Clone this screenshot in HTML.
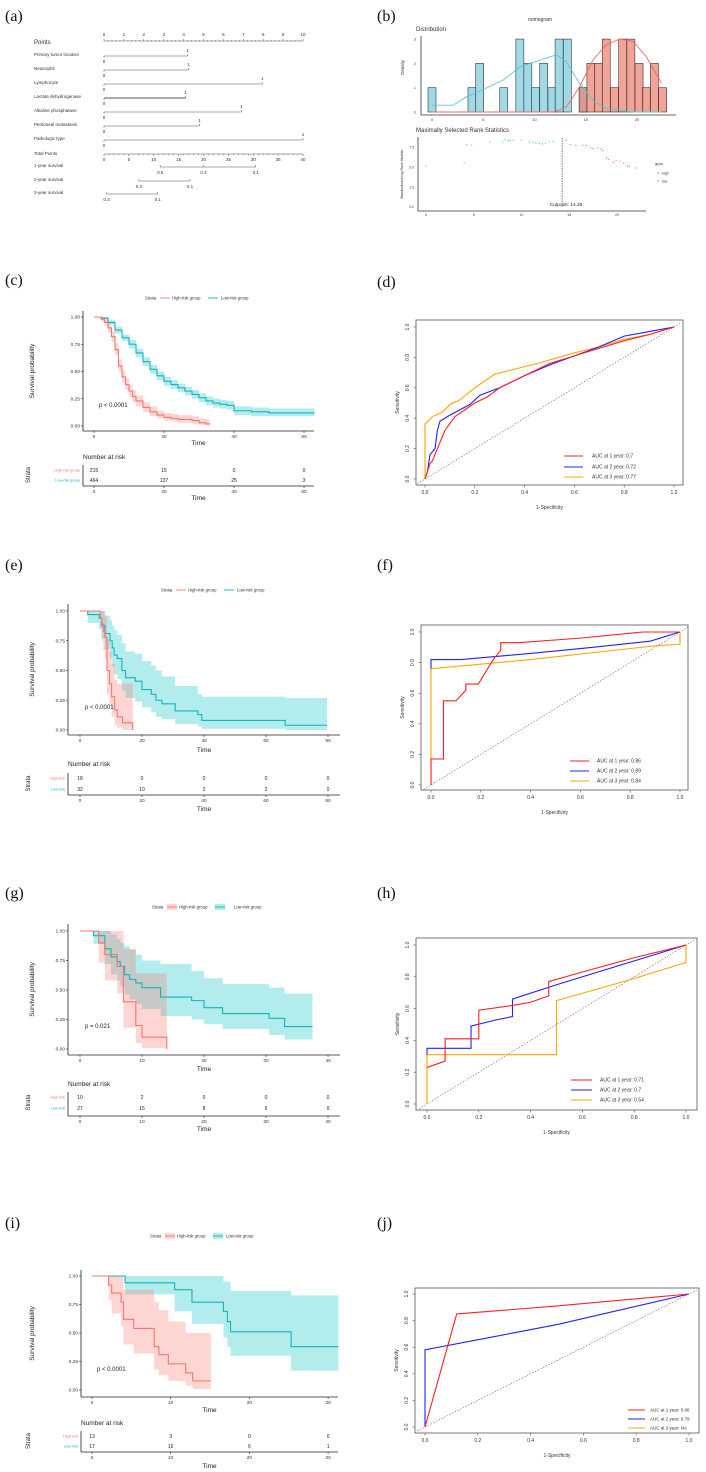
<!DOCTYPE html>
<html><head><meta charset="utf-8">
<style>
html,body{margin:0;padding:0;background:#fff;}
svg{display:block;font-family:"Liberation Sans",sans-serif;}
.pl{font-family:"Liberation Serif",serif;font-size:16px;fill:#111;}
</style></head>
<body>
<svg id="fig" width="706" height="1472" viewBox="0 0 706 1472" xmlns="http://www.w3.org/2000/svg">
<text class="pl" x="5" y="21">(a)</text>
<text class="pl" x="377" y="21">(b)</text>
<text class="pl" x="5" y="285">(c)</text>
<text class="pl" x="377" y="287">(d)</text>
<text class="pl" x="5" y="570">(e)</text>
<text class="pl" x="377" y="570">(f)</text>
<text class="pl" x="5" y="898">(g)</text>
<text class="pl" x="377" y="898">(h)</text>
<text class="pl" x="5" y="1228">(i)</text>
<text class="pl" x="377" y="1228">(j)</text>
</svg>
<script>
// ---------- Nomogram (a) ----------
const nomoVars = ['Primary tumor location','Neutrophil','Lymphocyte','Lactate dehydrogenase','Alkaline phosphatase','Peritoneal metastasis','Pathologic type'];
const nomoMaxPts = [4.2, 4.25, 7.95, 4.1, 6.9, 4.8, 10];
const pointsTicks = [0,1,2,3,4,5,6,7,8,9,10];
const totalTicks = [0,5,10,15,20,25,30,35,40];
const surv1Pos = [11.3, 20, 30.5]; const surv1Lab = ['0.5','0.3','0.1'];
const surv2Pos = [7, 17.3]; const surv2Lab = ['0.3','0.1'];
const surv3Pos = [0.5, 10.8]; const surv3Lab = ['0.3','0.1'];

// ---------- Histogram / rank stats (b) ----------
const histLowX = [0.0,3.9,4.65,7.0,8.57,9.35,10.1,10.9,11.7,12.4,13.2,14.75];
const histLowH = [1,1,2,1,3,2,1,2,1,3,3,1];
const histHighX = [14.75,15.5,16.25,17.0,17.8,18.6,19.4,20.2,20.9,21.7,22.5];
const histHighH = [1,2,2,3,1,3,3,2,1,2,1];
const densLowX = [0,2.05,3.35,5.0,6.9,8.6,10.5,12.1,13.1,14.4,15.7,17,19.6,22.4];
const densLowY = [0.28,0.28,0.62,0.93,1.3,1.86,2.13,2.35,2.07,1.18,0.48,0.14,0.0,0.0];
const densHighX = [0,11.8,13.1,14.4,15.7,17,18.3,19.6,20.9,22.4];
const densHighY = [0,0,0.2,1.04,2.14,2.77,3.0,2.91,2.28,1.18];
const rankLowX = [0,4.0,4.27,4.79,6.71,8.04,8.32,8.6,8.8,9.1,9.96,10.8,11.2,11.5,11.9,12.2,12.5,12.9,13.3];
const rankLowY = [5.19,5.53,7.83,7.75,8.17,8.17,8.46,8.34,8.38,8.38,8.38,8.13,8.13,8.04,7.96,7.92,8.04,8.17,8.25];
const rankHighX = [14.7,15.1,15.7,16.4,16.8,17.2,17.5,18.0,18.3,18.5,18.9,19.1,19.6,19.9,20.3,20.7,21.1,21.3,22.0];
const rankHighY = [8.38,7.83,7.75,7.75,7.71,7.42,7.33,7.42,7.29,7.08,6.16,5.95,5.61,5.82,5.74,5.53,5.19,5.11,4.9];
const cutpoint = 14.25;

// ---------- KM data ----------
const cHighT = [0,2,3,4,5,6,7,8,9,10,11,12,14,16,18,20,22,24,26,28,30,32,33];
const cHighS = [1,0.98,0.95,0.9,0.82,0.7,0.55,0.45,0.38,0.32,0.27,0.23,0.17,0.13,0.1,0.08,0.07,0.06,0.06,0.05,0.03,0.02,0.015];
const cHighLo = [1,0.96,0.92,0.86,0.77,0.65,0.5,0.4,0.33,0.27,0.22,0.18,0.13,0.09,0.07,0.05,0.04,0.03,0.03,0.02,0.01,0.0,0.0];
const cHighHi = [1,1,0.98,0.94,0.87,0.76,0.61,0.51,0.44,0.38,0.33,0.28,0.22,0.18,0.14,0.12,0.11,0.1,0.1,0.09,0.07,0.06,0.05];
const cLowT = [0,2,4,6,8,10,12,14,16,18,20,22,24,26,28,30,32,34,36,38,40,45,50,55,60,63];
const cLowS = [1,0.99,0.95,0.88,0.81,0.75,0.67,0.59,0.52,0.46,0.41,0.38,0.35,0.32,0.29,0.26,0.23,0.21,0.2,0.19,0.14,0.13,0.12,0.12,0.12,0.12];
const cLowLo = [1,0.98,0.93,0.85,0.78,0.71,0.63,0.55,0.48,0.42,0.37,0.34,0.31,0.28,0.25,0.22,0.19,0.17,0.16,0.15,0.1,0.09,0.09,0.09,0.09,0.09];
const cLowHi = [1,1,0.97,0.91,0.84,0.79,0.71,0.63,0.56,0.5,0.45,0.42,0.39,0.36,0.33,0.3,0.27,0.25,0.24,0.23,0.18,0.17,0.16,0.16,0.16,0.16];
const cRiskHigh = [215,15,0,0]; const cRiskLow = [464,137,25,3]; const cTicks = [0,20,40,60];

const eHighT = [0,6,6.5,7,7.5,8,8.7,9.5,10.2,11.2,12,13.7,17];
const eHighS = [1,1,0.94,0.89,0.83,0.78,0.5,0.39,0.28,0.17,0.11,0.06,0];
const eHighLo = [1,1,0.85,0.75,0.67,0.6,0.3,0.2,0.11,0.04,0.02,0.0,0];
const eHighHi = [1,1,1,1,1,0.97,0.76,0.66,0.56,0.42,0.39,0.39,0.39];
const eLowT = [0,2.5,6.2,7,8,9.7,10.4,11,12,13.5,14.7,17.8,20,23,24.5,26.4,30.7,38,39.3,66.2,79.7];
const eLowS = [1,0.97,0.94,0.88,0.81,0.75,0.69,0.63,0.6,0.5,0.44,0.41,0.34,0.3,0.25,0.22,0.16,0.13,0.08,0.04,0.04];
const eLowLo = [1,0.9,0.85,0.77,0.68,0.6,0.53,0.47,0.43,0.33,0.27,0.24,0.19,0.15,0.11,0.09,0.05,0.03,0.01,0,0];
const eLowHi = [1,1,1,1,0.96,0.92,0.88,0.84,0.8,0.73,0.66,0.64,0.58,0.54,0.5,0.45,0.37,0.3,0.28,0.27,0.27];
const eRiskHigh = [18,0,0,0,0]; const eRiskLow = [32,10,2,2,0]; const eTicks = [0,20,40,60,80];

const gHighT = [0,3,4,6,7,9,10,14];
const gHighS = [1,0.9,0.8,0.7,0.4,0.2,0.1,0];
const gHighLo = [1,0.73,0.58,0.47,0.18,0.05,0.01,0];
const gHighHi = [1,1,1,1,0.85,0.64,0.64,0.64];
const gLowT = [0,2.2,4,5,6,6.5,7.2,8,9,10,13,18,20,23,30.5,33,37.5];
const gLowS = [1,0.96,0.85,0.78,0.74,0.7,0.63,0.59,0.56,0.52,0.44,0.41,0.35,0.3,0.26,0.19,0.19];
const gLowLo = [1,0.89,0.72,0.63,0.58,0.53,0.46,0.42,0.38,0.34,0.28,0.25,0.21,0.17,0.12,0.08,0.08];
const gLowHi = [1,1,1,0.97,0.93,0.9,0.87,0.84,0.8,0.75,0.72,0.66,0.6,0.55,0.52,0.47,0.47];
const gRiskHigh = [10,2,0,0,0]; const gRiskLow = [27,15,8,6,0]; const gTicks = [0,10,20,30,40];

const iHighT = [0,2.1,2.5,3.7,4,5.3,7.9,8.5,9.7,11.9,12.8,15.1];
const iHighS = [1,0.92,0.85,0.77,0.62,0.54,0.38,0.31,0.23,0.15,0.08,0.08];
const iHighLo = [1,0.79,0.67,0.56,0.4,0.32,0.18,0.13,0.08,0.04,0.01,0.01];
const iHighHi = [1,1,1,1,0.88,0.88,0.77,0.7,0.6,0.5,0.5,0.5];
const iLowT = [0,4.2,10.5,12.7,16.7,17.2,17.6,25.3,31.3];
const iLowS = [1,0.94,0.88,0.77,0.69,0.6,0.51,0.38,0.38];
const iLowLo = [1,0.84,0.69,0.58,0.46,0.38,0.3,0.17,0.17];
const iLowHi = [1,1,1,1,0.95,0.95,0.87,0.83,0.83];
const iRiskHigh = [13,3,0,0]; const iRiskLow = [17,16,6,1]; const iTicks = [0,10,20,30];

// ---------- ROC data ----------
const dRedX = [0,0.01,0.02,0.03,0.05,0.08,0.12,0.2,0.25,0.3,0.4,0.5,0.6,0.7,0.8,0.9,1];
const dRedY = [0,0.05,0.1,0.12,0.2,0.32,0.41,0.5,0.54,0.6,0.68,0.76,0.81,0.86,0.91,0.95,1];
const dBlueX = [0,0.01,0.02,0.04,0.05,0.06,0.1,0.18,0.22,0.3,0.4,0.5,0.6,0.7,0.8,0.9,1];
const dBlueY = [0,0.05,0.16,0.2,0.32,0.38,0.42,0.49,0.55,0.6,0.68,0.75,0.81,0.87,0.94,0.97,1];
const dOrX = [0,0,0.03,0.07,0.1,0.14,0.2,0.28,0.33,0.45,0.6,0.7,0.8,0.9,1];
const dOrY = [0,0.36,0.41,0.44,0.49,0.52,0.6,0.69,0.71,0.76,0.83,0.87,0.92,0.95,1];
const dAuc = ['AUC at 1 year: 0.7','AUC at 2 year: 0.72','AUC at 3 year: 0.77'];

const fRedX = [0,0,0.05,0.05,0.1,0.14,0.14,0.19,0.25,0.28,0.28,0.35,0.6,0.85,1];
const fRedY = [0,0.17,0.17,0.55,0.55,0.62,0.66,0.66,0.82,0.88,0.93,0.93,0.96,1,1];
const fBlueX = [0,0,0.12,0.4,0.65,0.88,1];
const fBlueY = [0.76,0.82,0.82,0.86,0.9,0.94,1];
const fOrX = [0,0,0.4,0.9,1,1];
const fOrY = [0,0.76,0.82,0.91,0.92,1];
const fAuc = ['AUC at 1 year: 0.86','AUC at 2 year: 0.89','AUC at 3 year: 0.84'];

const hRedX = [0,0.07,0.07,0.2,0.2,0.33,0.4,0.47,0.47,0.6,0.8,1];
const hRedY = [0.23,0.27,0.41,0.41,0.59,0.62,0.64,0.68,0.77,0.83,0.92,1];
const hBlueX = [0,0,0.17,0.17,0.27,0.33,0.33,0.5,0.8,1];
const hBlueY = [0.31,0.35,0.35,0.49,0.53,0.55,0.66,0.75,0.9,1];
const hOrX = [0,0,0.5,0.5,0.78,1,1];
const hOrY = [0,0.31,0.31,0.65,0.78,0.89,1];
const hAuc = ['AUC at 1 year: 0.71','AUC at 2 year: 0.7','AUC at 3 year: 0.54'];

const jRedX = [0,0.12,0.5,1];
const jRedY = [0,0.85,0.91,1];
const jBlueX = [0,0,0.5,1];
const jBlueY = [0,0.58,0.77,1];
const jOrX = [];
const jOrY = [];
const jAuc = ['AUC at 1 year: 0.86','AUC at 2 year: 0.79','AUC at 3 year: NA'];

const rocTicks = [0,0.2,0.4,0.6,0.8,1.0];
const kmYTicks = [0,0.25,0.5,0.75,1];

const NS = 'http://www.w3.org/2000/svg';
const svg = document.getElementById('fig');
function mk(tag, attrs, name, parent) {
  const e = document.createElementNS(NS, tag);
  for (const k in attrs) e.setAttribute(k, attrs[k]);
  
  
  (parent || svg).appendChild(e);
  return e;
}
function txt(x, y, s, size, name, opts, parent) {
  const a = Object.assign({x: x, y: y, 'font-size': size, fill: '#333'}, opts || {});
  const t = mk('text', a, name, parent);
  t.textContent = s;
  return t;
}

// ===== (a) nomogram =====
(function(){
  const g = mk('g', {}, 'nomogram-panel');
  const px = p => 104 + p * 19.9;
  const tx = p => 104 + p * 4.975;
  txt(34, 44, 'Points', 6, 'points-label', {}, g);
  mk('line', {x1: px(0), y1: 41, x2: px(10), y2: 41, stroke: '#555', 'stroke-width': 0.6}, 'points-axis', g);
  for (let i = 0; i <= 50; i++) mk('line', {x1: px(i/5), y1: 41, x2: px(i/5), y2: i%5===0?39:40, stroke: '#555', 'stroke-width': 0.5}, 'points-tick', g);
  pointsTicks.forEach(v => txt(px(v), 36, String(v), 4.5, 'points-tick-label', {'text-anchor': 'middle'}, g));
  nomoVars.forEach((n, i) => {
    const y = 56 + i * 14;
    txt(34, y, n, 4.5, 'variable-label', {}, g);
    mk('line', {x1: px(0), y1: y, x2: px(nomoMaxPts[i]), y2: y, stroke: '#555', 'stroke-width': i===3?1:0.6}, 'variable-scale', g);
    mk('line', {x1: px(0), y1: y, x2: px(0), y2: y+2, stroke: '#555', 'stroke-width': 0.5}, 'variable-tick', g);
    mk('line', {x1: px(nomoMaxPts[i]), y1: y, x2: px(nomoMaxPts[i]), y2: y-2, stroke: '#555', 'stroke-width': 0.5}, 'variable-tick', g);
    txt(px(nomoMaxPts[i]), y - 4, '1', 4.5, 'level-label', {'text-anchor': 'middle'}, g);
    txt(px(0), y + 7, '0', 4.5, 'level-label', {'text-anchor': 'middle'}, g);
  });
  txt(34, 155, 'Total Points', 4.5, 'total-points-label', {}, g);
  mk('line', {x1: tx(0), y1: 154, x2: tx(40), y2: 154, stroke: '#555', 'stroke-width': 0.6}, 'total-points-axis', g);
  for (let i = 0; i <= 40; i++) mk('line', {x1: tx(i), y1: 154, x2: tx(i), y2: i%5===0?156:155.2, stroke: '#555', 'stroke-width': 0.5}, 'total-tick', g);
  totalTicks.forEach(v => txt(tx(v), 161, String(v), 4.5, 'total-tick-label', {'text-anchor': 'middle'}, g));
  const survRows = [[surv1Pos, surv1Lab, 167, '1-year survival'], [surv2Pos, surv2Lab, 181, '2-year survival'], [surv3Pos, surv3Lab, 194, '3-year survival']];
  survRows.forEach(r => {
    txt(34, r[2], r[3], 4.5, 'survival-label', {}, g);
    mk('line', {x1: tx(r[0][0]), y1: r[2], x2: tx(r[0][r[0].length-1]), y2: r[2], stroke: '#555', 'stroke-width': 0.6}, 'survival-scale', g);
    r[0].forEach((p, k) => {
      mk('line', {x1: tx(p), y1: r[2], x2: tx(p), y2: r[2]-2, stroke: '#555', 'stroke-width': 0.5}, 'survival-tick', g);
      txt(tx(p), r[2] + 7, r[1][k], 4.5, 'survival-tick-label', {'text-anchor': 'middle'}, g);
    });
  });
})();

// ===== (b) distribution + rank statistics =====
(function(){
  const g = mk('g', {}, 'cutpoint-panel');
  txt(540, 21, 'nomogram', 5, 'cutpoint-title', {'text-anchor': 'middle'}, g);
  txt(416, 31, 'Distribution', 6, 'distribution-title', {}, g);
  const hx = v => 432 + v * 10.25;
  const hy = d => 112 - d * 24.3;
  histLowX.forEach((v, i) => mk('rect', {x: hx(v - 0.39), y: hy(histLowH[i]), width: 8, height: hy(0) - hy(histLowH[i]), fill: '#8fd3e3', 'fill-opacity': 0.85, stroke: '#333', 'stroke-width': 0.6}, 'histogram-bar-low', g));
  histHighX.forEach((v, i) => mk('rect', {x: hx(v - 0.39), y: hy(histHighH[i]), width: 8, height: hy(0) - hy(histHighH[i]), fill: '#ee8576', 'fill-opacity': 0.75, stroke: '#333', 'stroke-width': 0.6}, 'histogram-bar-high', g));
  mk('polyline', {points: densLowX.map((v, i) => hx(v) + ',' + hy(densLowY[i])).join(' '), fill: 'none', stroke: '#5bc3d8', 'stroke-width': 0.9}, 'density-low', g);
  mk('polyline', {points: densHighX.map((v, i) => hx(v) + ',' + hy(densHighY[i])).join(' '), fill: 'none', stroke: '#f0685a', 'stroke-width': 0.9}, 'density-high', g);
  mk('line', {x1: 421, y1: 36, x2: 421, y2: 115, stroke: '#333', 'stroke-width': 0.8}, 'histogram-y-axis', g);
  mk('line', {x1: 421, y1: 115, x2: 676, y2: 115, stroke: '#333', 'stroke-width': 0.8}, 'histogram-x-axis', g);
  [0,1,2,3].forEach(v => txt(416, hy(v) + 1.5, String(v), 3.5, 'histogram-y-tick', {'text-anchor': 'end'}, g));
  [0,5,10,15,20].forEach(v => txt(hx(v), 121, String(v), 3.8, 'histogram-x-tick', {'text-anchor': 'middle'}, g));
  txt(404, 75, 'Density', 4.5, 'histogram-y-title', {transform: 'rotate(-90 404 75)'}, g);

  txt(416, 132, 'Maximally Selected Rank Statistics', 6, 'rank-title', {}, g);
  const rx = v => 426 + v * 9.55;
  const ry = s => 207 - s * 7.96;
  mk('line', {x1: 418, y1: 137, x2: 418, y2: 211, stroke: '#333', 'stroke-width': 0.8}, 'rank-y-axis', g);
  mk('line', {x1: 418, y1: 211, x2: 646, y2: 211, stroke: '#333', 'stroke-width': 0.8}, 'rank-x-axis', g);
  mk('line', {x1: rx(cutpoint), y1: 138, x2: rx(cutpoint), y2: 207, stroke: '#222', 'stroke-width': 0.6, 'stroke-dasharray': '1.5,1'}, 'cutpoint-line', g);
  txt(rx(cutpoint) + 4, 206, 'Cutpoint: 14.25', 4.8, 'cutpoint-label', {'text-anchor': 'middle', fill: '#222'}, g);
  rankLowX.forEach((v, i) => mk('circle', {cx: rx(v), cy: ry(rankLowY[i]), r: 0.6, fill: '#46c1d4'}, 'rank-point-low', g));
  rankHighX.forEach((v, i) => mk('circle', {cx: rx(v), cy: ry(rankHighY[i]), r: 0.6, fill: '#f06458'}, 'rank-point-high', g));
  [0,2.5,5,7.5].forEach(v => txt(414, ry(v) + 1.2, v.toFixed(1), 3.3, 'rank-y-tick', {'text-anchor': 'end'}, g));
  [0,5,10,15,20].forEach(v => txt(rx(v), 216, String(v), 3.5, 'rank-x-tick', {'text-anchor': 'middle'}, g));
  txt(403, 174, 'Standardized Log-Rank Statistic', 3.5, 'rank-y-title', {transform: 'rotate(-90 403 174)', 'text-anchor': 'middle'}, g);
  txt(655, 165, 'grps', 4, 'legend-title', {}, g);
  mk('circle', {cx: 658, cy: 173, r: 0.8, fill: '#f06458'}, 'legend-high-dot', g);
  txt(662, 174.5, 'high', 3.5, 'legend-high-label', {}, g);
  mk('circle', {cx: 658, cy: 181, r: 0.8, fill: '#46c1d4'}, 'legend-low-dot', g);
  txt(662, 182.5, 'low', 3.5, 'legend-low-label', {}, g);
})();

// ===== KM plots =====
function drawKM(c) {
  const g = mk('g', {}, c.name);
  const X = t => c.x0 + t * c.sc;
  const Y = s => c.y0 - s * (c.y0 - c.y1);
  const stepPts = (T, S) => { let p = [[X(T[0]), Y(S[0])]]; for (let i = 1; i < T.length; i++) { p.push([X(T[i]), Y(S[i-1])]); p.push([X(T[i]), Y(S[i])]); } return p; };
  const band = (T, L, H) => { const up = stepPts(T, H); const lo = stepPts(T, L).reverse(); return up.concat(lo).map(p => p.join(',')).join(' '); };
  mk('polygon', {points: band(c.lowT, c.lowLo, c.lowHi), fill: '#00BFC4', 'fill-opacity': 0.3}, 'ci-band-low-risk', g);
  mk('polygon', {points: band(c.highT, c.highLo, c.highHi), fill: '#F8766D', 'fill-opacity': 0.3}, 'ci-band-high-risk', g);
  mk('polyline', {points: stepPts(c.lowT, c.lowS).map(p => p.join(',')).join(' '), fill: 'none', stroke: '#12B5BA', 'stroke-width': 1.1}, 'survival-curve-low-risk', g);
  mk('polyline', {points: stepPts(c.highT, c.highS).map(p => p.join(',')).join(' '), fill: 'none', stroke: '#F8766D', 'stroke-width': 1.1}, 'survival-curve-high-risk', g);
  mk('line', {x1: c.left, y1: c.top, x2: c.left, y2: c.axisY, stroke: '#222', 'stroke-width': 0.8}, 'y-axis', g);
  mk('line', {x1: c.left, y1: c.axisY, x2: c.right, y2: c.axisY, stroke: '#222', 'stroke-width': 0.8}, 'x-axis', g);
  kmYTicks.forEach(v => {
    mk('line', {x1: c.left - 2, y1: Y(v), x2: c.left, y2: Y(v), stroke: '#222', 'stroke-width': 0.6}, 'y-tick', g);
    txt(c.left - 3, Y(v) + 1.7, v.toFixed(2), 4.8, 'y-tick-label', {'text-anchor': 'end'}, g);
  });
  c.ticks.forEach(v => {
    mk('line', {x1: X(v), y1: c.axisY, x2: X(v), y2: c.axisY + 2, stroke: '#222', 'stroke-width': 0.6}, 'x-tick', g);
    txt(X(v), c.axisY + 7, String(v), 4.8, 'x-tick-label', {'text-anchor': 'middle'}, g);
  });
  const mid = (c.left + c.right) / 2;
  txt(mid, c.timeY, 'Time', 6.5, 'x-axis-title', {'text-anchor': 'middle', fill: '#222'}, g);
  const yc = (c.top + c.axisY) / 2;
  txt(34, yc, 'Survival probability', 6.5, 'y-axis-title', {'text-anchor': 'middle', transform: 'rotate(-90 34 ' + yc + ')', fill: '#222'}, g);
  txt(c.p[0], c.p[1], c.pText, 6, 'p-value-label', {fill: '#222'}, g);
  // legend
  const lx = c.legX, ly = c.legY;
  txt(lx, ly + 1.5, 'Strata', 4.2, 'legend-title', {}, g);
  mk('rect', {x: lx + 15, y: ly - 3, width: 10, height: 6, fill: '#F8766D', 'fill-opacity': c.legFill ? 0.3 : 0}, 'legend-key-high', g);
  mk('line', {x1: lx + 15, y1: ly, x2: lx + 25, y2: ly, stroke: '#F8766D', 'stroke-width': 0.9}, 'legend-line-high', g);
  txt(lx + 27, ly + 1.5, 'High-risk group', 4.2, 'legend-label-high', {}, g);
  mk('rect', {x: lx + 63, y: ly - 3, width: 10, height: 6, fill: '#00BFC4', 'fill-opacity': c.legFill ? 0.3 : 0}, 'legend-key-low', g);
  mk('line', {x1: lx + 63, y1: ly, x2: lx + 73, y2: ly, stroke: '#12B5BA', 'stroke-width': 0.9}, 'legend-line-low', g);
  txt(lx + 76 + (c.legGap || 0), ly + 1.5, 'Low-risk group', 4.2, 'legend-label-low', {}, g);
  // risk table
  txt(c.left, c.narY, 'Number at risk', 6.5, 'risk-table-title', {fill: '#222'}, g);
  mk('line', {x1: c.left, y1: c.rows[0] - 5, x2: c.left, y2: c.tblAxis, stroke: '#222', 'stroke-width': 0.8}, 'risk-table-y-axis', g);
  mk('line', {x1: c.left, y1: c.tblAxis, x2: c.right, y2: c.tblAxis, stroke: '#222', 'stroke-width': 0.8}, 'risk-table-x-axis', g);
  txt(c.left - 3, c.rows[0] + 1.5, c.rowLabels[0], 3.8, 'risk-row-label-high', {'text-anchor': 'end', fill: '#F8766D'}, g);
  txt(c.left - 3, c.rows[1] + 1.5, c.rowLabels[1], 3.8, 'risk-row-label-low', {'text-anchor': 'end', fill: '#12B5BA'}, g);
  const sy = (c.rows[0] + c.rows[1]) / 2;
  txt(30, sy, 'Strata', 6, 'risk-strata-title', {'text-anchor': 'middle', transform: 'rotate(-90 30 ' + sy + ')', fill: '#222'}, g);
  c.ticks.forEach((v, i) => {
    txt(X(v), c.rows[0] + 2, String(c.riskHigh[i]), 5, 'risk-count-high', {'text-anchor': 'middle', fill: '#222'}, g);
    txt(X(v), c.rows[1] + 2, String(c.riskLow[i]), 5, 'risk-count-low', {'text-anchor': 'middle', fill: '#222'}, g);
    mk('line', {x1: X(v), y1: c.tblAxis, x2: X(v), y2: c.tblAxis + 2, stroke: '#222', 'stroke-width': 0.6}, 'risk-x-tick', g);
    txt(X(v), c.tblAxis + 7, String(v), 4.8, 'risk-x-tick-label', {'text-anchor': 'middle'}, g);
  });
  txt(mid, c.tblTime, 'Time', 6.5, 'risk-x-axis-title', {'text-anchor': 'middle', fill: '#222'}, g);
}
drawKM({name: 'km-panel-c', left: 83, right: 314, x0: 94, sc: 3.5, y1: 317, y0: 426, axisY: 431, top: 311, ticks: cTicks,
  highT: cHighT, highS: cHighS, highLo: cHighLo, highHi: cHighHi, lowT: cLowT, lowS: cLowS, lowLo: cLowLo, lowHi: cLowHi,
  riskHigh: cRiskHigh, riskLow: cRiskLow, rowLabels: ['High-risk group','Low-risk group'],
  p: [99, 407], pText: 'p < 0.0001', legX: 145, legY: 298, timeY: 445, narY: 459, rows: [470, 480], tblAxis: 486, tblTime: 500});
drawKM({name: 'km-panel-e', left: 68, right: 340, x0: 80, sc: 3.1, y1: 611, y0: 730, axisY: 735, top: 604, ticks: eTicks,
  highT: eHighT, highS: eHighS, highLo: eHighLo, highHi: eHighHi, lowT: eLowT, lowS: eLowS, lowLo: eLowLo, lowHi: eLowHi,
  riskHigh: eRiskHigh, riskLow: eRiskLow, rowLabels: ['High-risk','Low-risk'],
  p: [85, 709], pText: 'p < 0.0001', legX: 161, legY: 590, timeY: 752, narY: 766, rows: [778, 789], tblAxis: 795, tblTime: 811});
drawKM({name: 'km-panel-g', left: 68, right: 340, x0: 80, sc: 6.2, y1: 931, y0: 1049, axisY: 1055, top: 924, ticks: gTicks,
  highT: gHighT, highS: gHighS, highLo: gHighLo, highHi: gHighHi, lowT: gLowT, lowS: gLowS, lowLo: gLowLo, lowHi: gLowHi,
  riskHigh: gRiskHigh, riskLow: gRiskLow, rowLabels: ['High-risk','Low-risk'], legFill: true, legGap: 6,
  p: [85, 1028], pText: 'p = 0.021', legX: 152, legY: 907, timeY: 1071, narY: 1086, rows: [1097, 1108], tblAxis: 1116, tblTime: 1131});
drawKM({name: 'km-panel-i', left: 81, right: 338, x0: 92, sc: 7.87, y1: 1276, y0: 1390, axisY: 1397, top: 1270, ticks: iTicks,
  highT: iHighT, highS: iHighS, highLo: iHighLo, highHi: iHighHi, lowT: iLowT, lowS: iLowS, lowLo: iLowLo, lowHi: iLowHi,
  riskHigh: iRiskHigh, riskLow: iRiskLow, rowLabels: ['High-risk','Low-risk'], legFill: true,
  p: [97, 1371], pText: 'p < 0.0001', legX: 150, legY: 1236, timeY: 1412, narY: 1425, rows: [1436, 1446], tblAxis: 1452, tblTime: 1468});

// ===== ROC plots =====
function drawROC(c) {
  const g = mk('g', {}, c.name);
  const X = v => c.x0 + v * (c.x1 - c.x0);
  const Y = v => c.yb - v * (c.yb - c.yt);
  mk('rect', {x: c.bx0, y: c.by0, width: c.bx1 - c.bx0, height: c.by1 - c.by0, fill: 'none', stroke: '#555', 'stroke-width': 0.8}, 'plot-box', g);
  mk('line', {x1: X(-0.03), y1: Y(-0.03), x2: X(1.03), y2: Y(1.03), stroke: '#666', 'stroke-width': 0.6, 'stroke-dasharray': '1.5,1.5'}, 'reference-diagonal', g);
  const series = [[c.ox, c.oy, '#FFA500', 'roc-curve-3-year'], [c.bxs, c.bys, '#2020FF', 'roc-curve-2-year'], [c.rx, c.ry, '#FF2020', 'roc-curve-1-year']];
  series.forEach(s => { if (s[0].length) mk('polyline', {points: s[0].map((v, i) => X(v) + ',' + Y(s[1][i])).join(' '), fill: 'none', stroke: s[2], 'stroke-width': 1.1}, s[3], g); });
  rocTicks.forEach(v => {
    mk('line', {x1: X(v), y1: c.by1, x2: X(v), y2: c.by1 + 2.5, stroke: '#555', 'stroke-width': 0.6}, 'x-tick', g);
    txt(X(v), c.by1 + 9, v.toFixed(1), 5, 'x-tick-label', {'text-anchor': 'middle'}, g);
    mk('line', {x1: c.bx0, y1: Y(v), x2: c.bx0 - 2.5, y2: Y(v), stroke: '#555', 'stroke-width': 0.6}, 'y-tick', g);
    const yx = c.bx0 - 7;
    txt(yx, Y(v), v.toFixed(1), 5, 'y-tick-label', {'text-anchor': 'middle', transform: 'rotate(-90 ' + yx + ' ' + Y(v) + ')'}, g);
  });
  txt((c.bx0 + c.bx1) / 2, c.by1 + 24, '1-Specificity', 5, 'x-axis-title', {'text-anchor': 'middle'}, g);
  const yc = (c.by0 + c.by1) / 2;
  txt(c.bx0 - 17, yc, 'Sensitivity', 5, 'y-axis-title', {'text-anchor': 'middle', transform: 'rotate(-90 ' + (c.bx0 - 17) + ' ' + yc + ')'}, g);
  const cols = ['#FF2020', '#2020FF', '#FFA500'];
  c.auc.forEach((s, i) => {
    mk('line', {x1: c.lx, y1: c.ly[i], x2: c.lx + c.lw, y2: c.ly[i], stroke: cols[i], 'stroke-width': 1.1}, 'legend-line', g);
    txt(c.tx, c.ly[i] + 1.7, s, c.lf, 'legend-label', {}, g);
  });
}
drawROC({name: 'roc-panel-d', bx0: 416, bx1: 683, by0: 320, by1: 485, x0: 425, x1: 674, yt: 327, yb: 479,
  rx: dRedX, ry: dRedY, bxs: dBlueX, bys: dBlueY, ox: dOrX, oy: dOrY, auc: dAuc, lx: 564, lw: 19, tx: 592, ly: [456, 467, 477], lf: 5});
drawROC({name: 'roc-panel-f', bx0: 421, bx1: 688, by0: 625, by1: 790, x0: 431, x1: 680, yt: 632, yb: 785,
  rx: fRedX, ry: fRedY, bxs: fBlueX, bys: fBlueY, ox: fOrX, oy: fOrY, auc: fAuc, lx: 570, lw: 19, tx: 597, ly: [761, 771, 781], lf: 5});
drawROC({name: 'roc-panel-h', bx0: 416, bx1: 697, by0: 938, by1: 1110, x0: 427, x1: 686, yt: 945, yb: 1104,
  rx: hRedX, ry: hRedY, bxs: hBlueX, bys: hBlueY, ox: hOrX, oy: hOrY, auc: hAuc, lx: 571, lw: 21, tx: 600, ly: [1080, 1090, 1100], lf: 5});
drawROC({name: 'roc-panel-j', bx0: 415, bx1: 699, by0: 1288, by1: 1433, x0: 425, x1: 689, yt: 1294, yb: 1427,
  rx: jRedX, ry: jRedY, bxs: jBlueX, bys: jBlueY, ox: jOrX, oy: jOrY, auc: jAuc, lx: 628, lw: 17, tx: 650, ly: [1410, 1419, 1428], lf: 4.5});
</script>
</body></html>
